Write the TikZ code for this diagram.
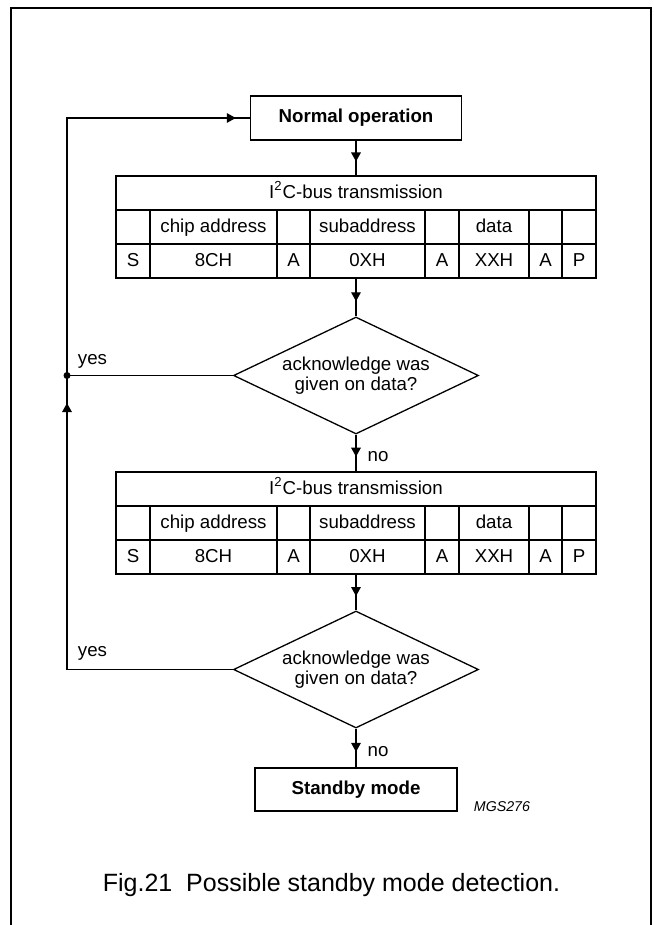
\documentclass[tikz,border=0pt]{standalone}
\usepackage{fontspec}
\setmainfont{Liberation Sans}
\usetikzlibrary{arrows.meta,shapes.geometric,decorations.markings,positioning}

% one I2C-bus transmission table: #1 name, #2 top edge
\newcommand{\bustable}[2]{%
  \node[bus]  (#1)   at (356,#2+51) {};
  \node[cell] (#1-t) at (356,#2+17) {I\textsuperscript{2}C-bus transmission};
  \draw (116,#2+34) -- (596,#2+34) (116,#2+68) -- (596,#2+68);
  \foreach \x in {150,277,310,425,459,529,562}
    \draw (\x,#2+34) -- (\x,#2+102);
  \foreach \x/\t [count=\i] in {213.5/chip address,367.5/subaddress,494/data}
    \node[cell] (#1-a\i) at (\x,#2+51) {\t};
  \foreach \x/\t [count=\i] in {133/S,213.5/8CH,293.5/A,367.5/0XH,442/A,494/XXH,545.5/A,579/P}
    \node[cell] (#1-b\i) at (\x,#2+85) {\t};
}

\begin{document}
\begin{tikzpicture}[x=0.5pt,y=-0.5pt,line width=0.65pt,
  every node/.style={font=\fontsize{9.35}{10}\selectfont},
  cell/.style={inner sep=0pt,text height=7.5pt,text depth=2pt},
  label/.style={inner sep=0pt},
  bus/.style={draw,rectangle,minimum width=240pt,minimum height=51pt,inner sep=0pt},
  boxA/.style={draw,rectangle,minimum width=105.5pt,minimum height=22pt,font=\fontsize{9.35}{10}\selectfont\bfseries},
  boxB/.style={draw,rectangle,minimum width=101pt,minimum height=21.5pt,font=\fontsize{9.35}{10}\selectfont\bfseries},
  decision/.style={draw,diamond,aspect=2.09,inner sep=0pt,minimum width=122.5pt,minimum height=58.5pt,align=center},
  midarrow/.style={postaction={decorate},decoration={markings,mark=at position #1 with {\arrow{Triangle[length=4.5pt,width=4.8pt]}}}}]

  \useasboundingbox (0,0) rectangle (653,925);
  \draw[line width=1pt] (11,925) -- (11,8) -- (651,8) -- (651,925);

  \node[boxA]     (normal)  at (356,118)   {Normal operation};
  \bustable{busA}{176}
  \node[decision] (dA)      at (356,375.5) {acknowledge was\\given on data?};
  \bustable{busB}{472}
  \node[decision] (dB)      at (356,669.5) {acknowledge was\\given on data?};
  \node[boxB]     (standby) at (356,789.5) {Standby mode};

  \coordinate (join) at (67,375.5);

  \path
        (normal) edge[midarrow=0.6]  (busA)
        (busA)   edge[midarrow=0.6]  (dA)
        (dA)     edge[midarrow=0.6]  node[label,right=5.5pt,pos=0.6] (noA) {no} (busB)
        (busB)   edge[midarrow=0.6]  (dB)
        (dB)     edge[midarrow=0.6]  node[label,right=5.5pt,pos=0.6] (noB) {no} (standby);

  % yes branches back to normal operation
  \draw (dA.west) -- (join);
  \draw[midarrow=0.94] (dB.west) -- (dB.west -| join) -- (join);
  \draw[midarrow=0.968] (join) -- (join |- normal.west) -- (normal.west);
  \fill (join) circle (1.75pt);

  \node[label] (yesA) at (92.5,361) {yes};
  \node[label] (yesB) at (92.5,653) {yes};

  \node[label,font=\fontsize{7.1}{8}\selectfont\itshape] (code) at (502,807) {MGS276};
  \node[font=\fontsize{12.5}{14}\selectfont] (caption) at (331.5,885) {Fig.21\hspace{0.556em}Possible standby mode detection.};
\end{tikzpicture}
\end{document}
